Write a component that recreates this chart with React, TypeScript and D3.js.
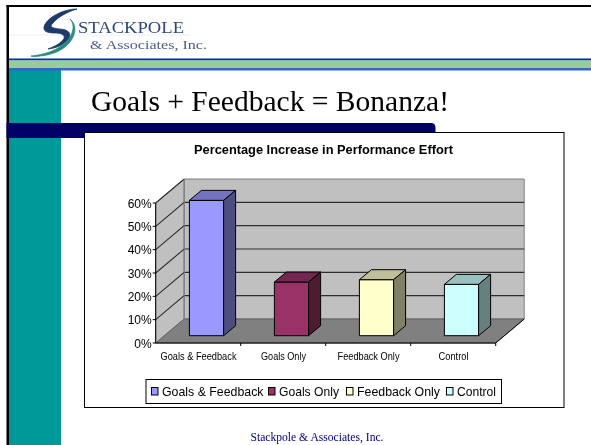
import React from "react";
import * as d3 from "d3";

const categories = ["Goals & Feedback", "Goals Only", "Feedback Only", "Control"];
const values = [58, 23, 24, 22];
const yTicks = [0, 10, 20, 30, 40, 50, 60];
const frontColors = ["#9999ff", "#993366", "#ffffcc", "#ccffff"];
const topColors = ["#7373bf", "#732650", "#bfbf99", "#99bfbf"];
const sideColors = ["#4d4d80", "#4d1a33", "#808066", "#668080"];
const title = "Goals + Feedback = Bonanza!";
const chartTitle = "Percentage Increase in Performance Effort";
const footer = "Stackpole & Associates, Inc.";
const legendX = [151, 268, 346, 446];
const legendW = [101.5, 60, 83, 39];
const axisLabelW = [76, 45, 62, 30];

const x0 = 155.7, xEnd = 495.7, y0 = 343, yTop = 203;
const depthX = 28.5, depthY = -24;
const barDX = 12, barDY = -10;
const barShiftX = 8.7, barShiftY = -7.3;

const xBand = d3.scaleBand<string>().domain(categories).range([x0, xEnd]);
const y = d3.scaleLinear().domain([0, 60]).range([y0, yTop]);
const barInset = 25, barWidth = 34.2;
const poly = (pts: number[][]) => d3.line()(pts as [number, number][]) + "Z";

export default function App() {
  return (
    <svg width={591} height={445} style={{ position: "absolute", left: 0, top: 0, background: "#fff" }}>
      <defs>
        <filter id="soft" x="0" y="0" width="100%" height="100%" filterUnits="userSpaceOnUse" primitiveUnits="userSpaceOnUse">
          <feGaussianBlur stdDeviation="0.3" />
        </filter>
        <filter id="softer"><feGaussianBlur stdDeviation="0.5" /></filter>
      </defs>
      <g filter="url(#soft)">
        <rect width={591} height={445} fill="#fff" />
        <rect x={6.500} y={5} width={584.500} height={2} fill="#000" />
        <rect x={6.500} y={5} width={2.500} height={440} fill="#000" />
        <rect x={9} y={70} width={52} height={375} fill="#009999" />
        <rect x={9} y={58.500} width={582} height={2} fill="#003399" />
        <rect x={9} y={60.500} width={582} height={7.500} fill="#99cc99" />
        <rect x={9} y={68} width={582} height={2.500} fill="#3366cc" />
        <path d="M6.500 123H431Q435.500 123 435.500 128V138H6.500Z" fill="#000066" />

        <g filter="url(#softer)">
          <path d="M9 35H190M50 8V20" stroke="#eeeeee" fill="none" />
          <path d="M77 9C63 9 46 18 44 27C43 33 51 33 57 33C65 34 66 37 62 41C58 45 53 47 48 49C57 48 66 44 69 38C72 32 66 29 59 29C52 28 49 27 53 23C58 17 67 12 77 9Z" fill="#1c3a66" stroke="#1c3a66" strokeWidth={0.8} />
          <path d="M70 19C75 24 74 33 67 41C59 50 44 55 31 56C33 57 36 56.500 40 56C52 55 64 50 70 42C76 34 77 25 70 19Z" fill="#2a8a82" stroke="#2a8a82" strokeWidth={0.8} />
          <text x={78} y={33} fontFamily="Liberation Serif" fontSize={17} fill="#2f4a78" textLength={106} lengthAdjust="spacingAndGlyphs">STACKPOLE</text>
          <text x={90} y={49} fontFamily="Liberation Serif" fontSize={13.500} fill="#4a5f85" textLength={117} lengthAdjust="spacingAndGlyphs">&amp; Associates, Inc.</text>
        </g>

        <text x={91} y={111} fontFamily="Liberation Serif" fontSize={29.500} fill="#000" textLength={358} lengthAdjust="spacingAndGlyphs">{title}</text>

        <rect x={84.500} y={132.500} width={479.500} height={275} fill="#fff" stroke="#000" strokeWidth={1} />
        <text x={323.500} y={154} textAnchor="middle" fontFamily="Liberation Sans" fontWeight="bold" fontSize={12} fill="#000" textLength={259} lengthAdjust="spacingAndGlyphs">{chartTitle}</text>

        <path d={poly([[x0, y0], [x0 + depthX, y0 + depthY], [x0 + depthX, yTop + depthY], [x0, yTop]])} fill="#c0c0c0" stroke="#808080" />
        <path d={poly([[x0 + depthX, y0 + depthY], [xEnd + depthX, y0 + depthY], [xEnd + depthX, yTop + depthY], [x0 + depthX, yTop + depthY]])} fill="#c0c0c0" stroke="#808080" />
        <path d={poly([[x0, y0], [xEnd, y0], [xEnd + depthX, y0 + depthY], [x0 + depthX, y0 + depthY]])} fill="#808080" stroke="#606060" />
        {yTicks.slice(1).map((t) => (
          <path key={t} fill="none" stroke="#2e2e2e" strokeWidth={1.1}
            d={t === 60 ? `M${x0} ${y(t)}L${x0 + depthX} ${y(t) + depthY}` : `M${x0} ${y(t)}L${x0 + depthX} ${y(t) + depthY}H${xEnd + depthX}`} />
        ))}
        <path d={`M${x0 + depthX} ${yTop + depthY}V${y0 + depthY}`} stroke="#808080" />

        <path d={`M${x0} ${yTop}V${y0}H${xEnd}L${xEnd + depthX} ${y0 + depthY}`} fill="none" stroke="#000" />
        {yTicks.map((t) => (
          <g key={t}>
            <path d={`M${x0 - 3} ${y(t)}H${x0}`} stroke="#000" />
            <text x={x0 - 4} y={y(t) + 4.500} textAnchor="end" fontFamily="Liberation Sans" fontSize={12} fill="#000">{t}%</text>
          </g>
        ))}
        {categories.map((c, i) => {
          const bx = xBand(c)!;
          return (
            <g key={c}>
              <path d={`M${bx + xBand.bandwidth()} ${y0}v3`} stroke="#000" />
              <text x={bx + xBand.bandwidth() / 2 + 0.3} y={360} textAnchor="middle" fontFamily="Liberation Sans" fontSize={10} fill="#000" textLength={axisLabelW[i]} lengthAdjust="spacingAndGlyphs">{c}</text>
            </g>
          );
        })}

        {categories.map((c, i) => {
          const l = xBand(c)! + barShiftX + barInset, r = l + barWidth;
          const top = y(values[i]) + barShiftY, bot = y0 + barShiftY;
          return (
            <g key={c} stroke="#000" strokeWidth={1} strokeLinejoin="round">
              <path d={poly([[l, bot], [r, bot], [r, top], [l, top]])} fill={frontColors[i]} />
              <path d={poly([[l, top], [r, top], [r + barDX, top + barDY], [l + barDX, top + barDY]])} fill={topColors[i]} />
              <path d={poly([[r, bot], [r + barDX, bot + barDY], [r + barDX, top + barDY], [r, top]])} fill={sideColors[i]} />
            </g>
          );
        })}

        <rect x={146} y={379.500} width={355.500} height={24} fill="#fff" stroke="#000" />
        {categories.map((c, i) => (
          <g key={c}>
            <rect x={legendX[i] + 0.500} y={387.500} width={6.500} height={7.500} fill={frontColors[i]} stroke="#000" />
            <text x={legendX[i] + 11} y={396} fontFamily="Liberation Sans" fontSize={13} fill="#000" textLength={legendW[i]} lengthAdjust="spacingAndGlyphs">{c}</text>
          </g>
        ))}

        <text x={317} y={441} textAnchor="middle" fontFamily="Liberation Serif" fontSize={11.500} fill="#000080" textLength={133} lengthAdjust="spacingAndGlyphs">{footer}</text>
      </g>
    </svg>
  );
}
